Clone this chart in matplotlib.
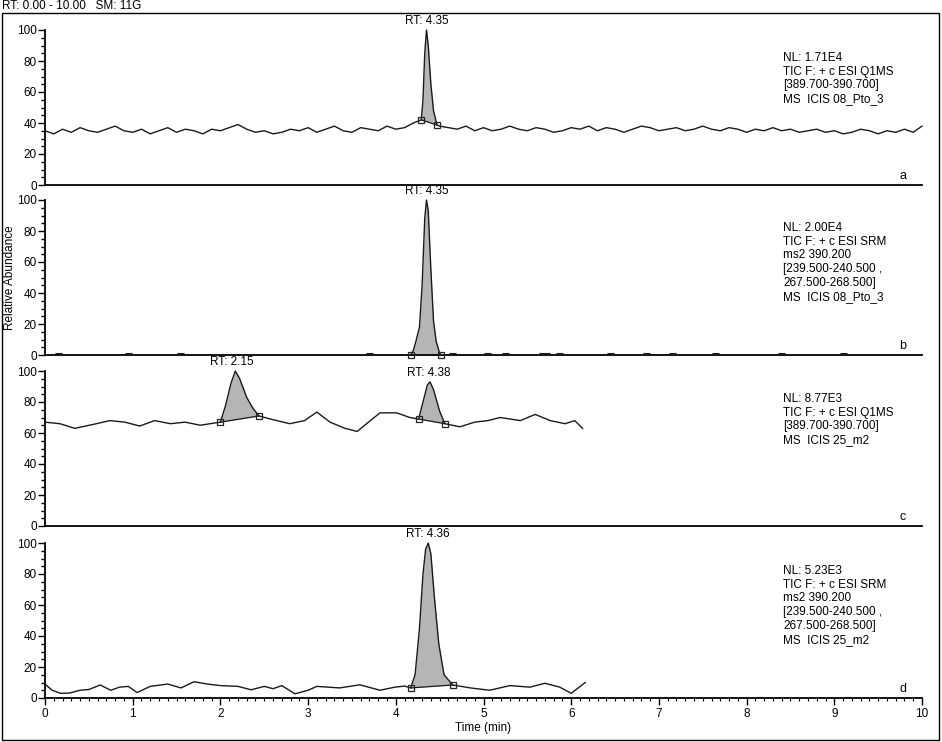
import numpy as np
import matplotlib.pyplot as plt
from matplotlib.patches import Rectangle
from matplotlib.ticker import MultipleLocator

plt.rcParams['font.family'] = ['Liberation Sans', 'DejaVu Sans']
plt.rcParams['font.size'] = 8.5

# ---- panel a : TIC Q1MS, 08_Pto_3 ----
a_base_t = np.round(np.arange(0, 10.01, 0.1), 2)
a_base_v = [35, 33, 36, 34, 37, 35, 34, 36, 38, 35,
            34, 36, 33, 35, 37, 34, 36, 35, 33, 36,
            35, 37, 39, 36, 34, 35, 33, 34, 36, 35,
            37, 34, 36, 38, 35, 34, 37, 36, 35, 38,
            36, 37, 40, 41, 42, 38, 37, 36, 38, 35,
            37, 35, 36, 38, 36, 35, 37, 36, 34, 35,
            37, 36, 38, 35, 37, 36, 34, 36, 38, 37,
            35, 36, 37, 35, 36, 38, 36, 35, 37, 36,
            34, 36, 35, 37, 35, 36, 34, 35, 36, 34,
            35, 33, 34, 36, 35, 33, 35, 34, 36, 34,
            38]
a_peak_t = [4.29, 4.31, 4.33, 4.35, 4.37, 4.40, 4.43, 4.47]
a_peak_v = [42, 55, 85, 100, 90, 65, 48, 38.7]

# ---- panel b : SRM, 08_Pto_3 ----
b_t = [0, 4.17, 4.20, 4.23, 4.27, 4.30, 4.33, 4.35, 4.37, 4.40, 4.43, 4.46, 4.49, 4.51, 10]
b_v = [0, 0, 3, 9, 18, 45, 88, 100, 93, 55, 22, 9, 3, 0, 0]
b_blips = [0.15, 0.95, 1.55, 3.7, 4.65, 5.05, 5.25, 5.67, 5.72, 5.87, 6.45, 6.86, 7.15, 7.65, 8.4, 9.1]

# ---- panel c : TIC Q1MS, 25_m2 ----
c_t = [0, 0.17, 0.34, 0.57, 0.74, 0.91, 1.08, 1.25, 1.43, 1.60,
       1.77, 1.94, 2.0, 2.06, 2.12, 2.17, 2.22, 2.30, 2.37, 2.44,
       2.57, 2.79, 2.96, 3.10, 3.25, 3.42, 3.56, 3.71, 3.82, 4.01,
       4.16, 4.26, 4.31, 4.36, 4.39, 4.43, 4.50, 4.56, 4.73, 4.90,
       5.05, 5.19, 5.42, 5.59, 5.76, 5.93, 6.04, 6.13]
c_v = [67, 66, 63, 65.8, 68, 67, 64.5, 68, 66, 67,
       65, 66.5, 67, 78, 92, 100, 95, 83, 76, 71,
       69, 66, 68, 73.5, 67, 63, 61, 68, 73, 73,
       70, 69, 80, 91, 93, 88, 74, 66, 64, 67,
       68, 70, 68, 72, 68, 66, 68, 63]

# ---- panel d : SRM, 25_m2 ----
d_t = [0, 0.08, 0.18, 0.28, 0.4, 0.5, 0.63, 0.75, 0.85, 0.95,
       1.05, 1.2, 1.4, 1.55, 1.7, 1.85, 2.0, 2.2, 2.35, 2.5,
       2.6, 2.7, 2.85, 3.0, 3.1, 3.36, 3.59, 3.82, 3.99, 4.1,
       4.17, 4.22, 4.27, 4.31, 4.34, 4.37, 4.40, 4.44, 4.49, 4.55,
       4.65, 4.85, 5.07, 5.3, 5.53, 5.7, 5.87, 6.0, 6.16]
d_v = [9, 5, 3, 3.2, 5, 5.5, 8.4, 5, 7, 7.5,
       3.5, 7.5, 9, 6.5, 10.5, 9, 8, 7.5, 5.3, 7.5,
       6, 8, 2.7, 5, 7.5, 6.5, 8.5, 5, 7, 7.7,
       6.5, 15, 45, 80, 96, 100, 93, 65, 35, 15,
       8.4, 6.5, 5, 8, 7, 9.5, 7, 3, 10]

# integration limits (start, end) per peak
a_peaks = [(4.29, 4.47)]
b_peaks = [(4.17, 4.51)]
c_peaks = [(2.0, 2.44), (4.26, 4.56)]
d_peaks = [(4.17, 4.65)]

a_rt = [(4.35, 102, 'RT: 4.35')]
b_rt = [(4.35, 102, 'RT: 4.35')]
c_rt = [(2.13, 102, 'RT: 2.15'), (4.38, 95, 'RT: 4.38')]
d_rt = [(4.36, 102, 'RT: 4.36')]

a_info = 'NL: 1.71E4\nTIC F: + c ESI Q1MS\n[389.700-390.700]\nMS  ICIS 08_Pto_3'
b_info = 'NL: 2.00E4\nTIC F: + c ESI SRM\nms2 390.200\n[239.500-240.500 ,\n267.500-268.500]\nMS  ICIS 08_Pto_3'
c_info = 'NL: 8.77E3\nTIC F: + c ESI Q1MS\n[389.700-390.700]\nMS  ICIS 25_m2'
d_info = 'NL: 5.23E3\nTIC F: + c ESI SRM\nms2 390.200\n[239.500-240.500 ,\n267.500-268.500]\nMS  ICIS 25_m2'

# merge panel a baseline and peak
a_t = [t for t in a_base_t if t < 4.29 or t > 4.47] + a_peak_t
a_v = [v for t, v in zip(a_base_t, a_base_v) if t < 4.29 or t > 4.47] + a_peak_v
order = np.argsort(a_t)
a_t = np.array(a_t)[order]
a_v = np.array(a_v)[order]

W, H = 942, 742
fig = plt.figure(figsize=(W / 100, H / 100), dpi=100)

# outer frame
fig.patches.append(Rectangle((2 / W, 2 / H), 937 / W, 727 / H, transform=fig.transFigure,
                             fill=False, edgecolor='black', linewidth=1.0))
fig.text(2 / W, 1 - 6 / H, 'RT: 0.00 - 10.00   SM: 11G', ha='left', va='center', fontsize=8.5)

line_col = '#1a1a1a'


def draw_panel(ax, t, v, peaks, rts, info, letter, last=False):
    t = np.asarray(t, dtype=float)
    v = np.asarray(v, dtype=float)
    ax.plot(t, v, color=line_col, lw=1.0, clip_on=False, zorder=3)
    for t1, t2 in peaks:
        v1 = v[np.argmin(abs(t - t1))]
        v2 = v[np.argmin(abs(t - t2))]
        m = (t >= t1 - 1e-9) & (t <= t2 + 1e-9)
        base = np.interp(t[m], [t1, t2], [v1, v2])
        ax.fill_between(t[m], v[m], base, color='#b5b5b5', lw=0, zorder=2)
        ax.plot([t1, t2], [v1, v2], color=line_col, lw=0.9, zorder=3)
        ax.plot([t1, t2], [v1, v2], ls='none', marker='s', ms=5, mfc='none',
                mec='#222222', mew=0.9, zorder=4, clip_on=False)
    for x, y, s in rts:
        ax.text(x, y, s, ha='center', va='bottom', fontsize=8.5)
    ax.text(8.42, 86, info, ha='left', va='top', fontsize=8.5, linespacing=1.2)
    ax.text(9.78, 6, letter, ha='center', va='center', fontsize=9)

    ax.set_xlim(0, 10)
    ax.set_ylim(0, 100)
    for s in ['top', 'right']:
        ax.spines[s].set_visible(False)
    for s in ['left', 'bottom']:
        ax.spines[s].set_linewidth(1.3)
    ax.yaxis.set_major_locator(MultipleLocator(20))
    ax.yaxis.set_minor_locator(MultipleLocator(5))
    ax.tick_params(axis='y', which='major', length=5, width=1, pad=1, labelsize=8.5)
    ax.tick_params(axis='y', which='minor', length=3, width=1)
    if last:
        ax.xaxis.set_major_locator(MultipleLocator(1))
        ax.xaxis.set_minor_locator(MultipleLocator(0.1))
        ax.tick_params(axis='x', which='major', length=5, width=1, pad=2, labelsize=8.5)
        ax.tick_params(axis='x', which='minor', length=2.5, width=0.8)
    else:
        ax.tick_params(axis='x', which='both', bottom=False, labelbottom=False)
    ax.patch.set_alpha(0)


left = 45 / W
width = 877 / W
tops = [30, 200, 371, 543]
panels = [(a_t, a_v, a_peaks, a_rt, a_info, 'a'),
          (b_t, b_v, b_peaks, b_rt, b_info, 'b'),
          (c_t, c_v, c_peaks, c_rt, c_info, 'c'),
          (d_t, d_v, d_peaks, d_rt, d_info, 'd')]
for i, (top, p) in enumerate(zip(tops, panels)):
    ax = fig.add_axes([left, 1 - (top + 155) / H, width, 155 / H])
    draw_panel(ax, *p, last=(i == 3))
    if i == 1:
        for bt in b_blips:
            ax.plot([bt - 0.04, bt + 0.04], [0.6, 0.6], color=line_col, lw=2.2,
                    solid_capstyle='butt', clip_on=False, zorder=3)
    if i == 3:
        ax.set_xlabel('Time (min)', fontsize=8.5, labelpad=2)

fig.text(10 / W, 1 - 278 / H, 'Relative Abundance', rotation=90, ha='center', va='center', fontsize=8.5)

fig.savefig('out.png', dpi=100)
